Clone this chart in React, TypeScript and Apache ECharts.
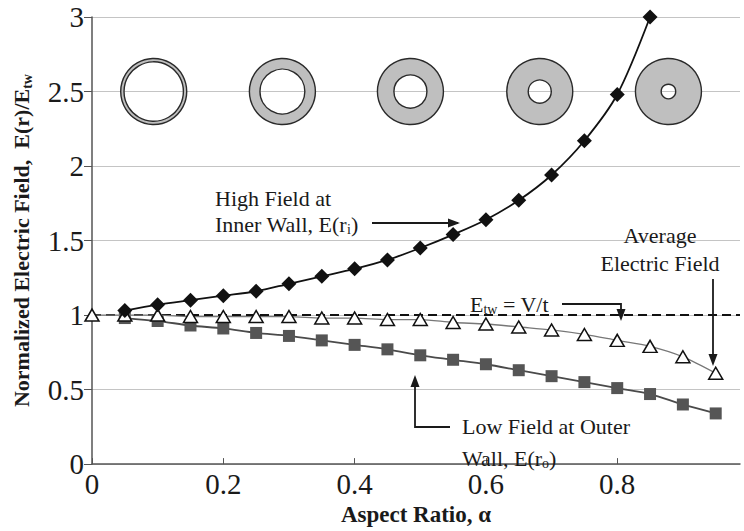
import React, { useEffect, useRef } from "react";
import * as echarts from "echarts";

// ---- data ----
const alphaHigh = [0.05, 0.1, 0.15, 0.2, 0.25, 0.3, 0.35, 0.4, 0.45, 0.5, 0.55, 0.6, 0.65, 0.7, 0.75, 0.8, 0.85];
const highField = [1.03, 1.07, 1.1, 1.13, 1.16, 1.21, 1.26, 1.31, 1.37, 1.45, 1.54, 1.64, 1.77, 1.94, 2.17, 2.48, 3.0];

const alphaLow = [0.05, 0.1, 0.15, 0.2, 0.25, 0.3, 0.35, 0.4, 0.45, 0.5, 0.55, 0.6, 0.65, 0.7, 0.75, 0.8, 0.85, 0.9, 0.95];
const lowField = [0.98, 0.96, 0.93, 0.91, 0.88, 0.86, 0.83, 0.8, 0.77, 0.73, 0.7, 0.67, 0.63, 0.59, 0.55, 0.51, 0.47, 0.4, 0.34];

const alphaAvg = [0, 0.05, 0.1, 0.15, 0.2, 0.25, 0.3, 0.35, 0.4, 0.45, 0.5, 0.55, 0.6, 0.65, 0.7, 0.75, 0.8, 0.85, 0.9, 0.95];
const avgField = [1.0, 1.0, 1.0, 0.99, 0.99, 0.99, 0.99, 0.98, 0.98, 0.97, 0.97, 0.95, 0.94, 0.92, 0.9, 0.87, 0.83, 0.79, 0.72, 0.61];

const etwLevel = 1;

const ringAlpha = [0.094, 0.29, 0.485, 0.682, 0.878];
const ringLevel = 2.5;
const ringInner = [0.9, 0.68, 0.5, 0.35, 0.22];

const xTicks = [0, 0.2, 0.4, 0.6, 0.8];
const X_MAX = 0.987;

const SERIF = "'Liberation Serif', 'Times New Roman', serif";
const TXT = "#1a1a1a";

function zip(xs: number[], ys: number[]) {
  return xs.map((x, i) => [x, ys[i]]);
}

export default function App() {
  const ref = useRef<HTMLDivElement>(null);
  useEffect(() => {
    document.body.style.margin = "0";
    if (!ref.current) return;
    const chart = echarts.init(ref.current, null, { renderer: "svg" });
    const txt = (x: number, y: number, text: string, extra: any = {}) => ({
      type: "text",
      x,
      y,
      style: {
        text,
        fontSize: 22,
        fontFamily: SERIF,
        fill: TXT,
        verticalAlign: "middle",
        rich: { sub: { fontSize: 14, fontFamily: SERIF, fill: TXT, padding: [10, 0, 0, 0] } },
        ...extra,
      },
      z: 100,
    });
    const lineEl = (pts: number[][]) => ({
      type: "polyline",
      shape: { points: pts },
      style: { stroke: TXT, lineWidth: 1.8, fill: null },
      z: 100,
    });
    const head = (x: number, y: number, dir: "right" | "down" | "up") => {
      let pts: number[][];
      if (dir === "right") pts = [[x, y], [x - 12, y - 4.5], [x - 12, y + 4.5]];
      else if (dir === "down") pts = [[x, y], [x - 4.5, y - 12], [x + 4.5, y - 12]];
      else pts = [[x, y], [x - 4.5, y + 12], [x + 4.5, y + 12]];
      return { type: "polygon", shape: { points: pts }, style: { fill: TXT }, z: 100 };
    };

    chart.setOption({
      animation: false,
      grid: { left: 91, right: 4, top: 17, bottom: 54, containLabel: false },
      xAxis: {
        type: "value",
        min: 0,
        max: X_MAX,
        interval: 0.2,
        name: "Aspect Ratio, α",
        nameLocation: "middle",
        nameGap: 37,
        nameTextStyle: { fontFamily: SERIF, fontWeight: "bold", fontSize: 23, color: TXT },
        axisLine: { show: true, lineStyle: { color: "#555", width: 1.5 } },
        axisTick: { show: true, inside: true, length: 6, lineStyle: { color: "#555" } },
        splitLine: { show: false },
        axisLabel: {
          fontFamily: SERIF,
          fontSize: 29,
          color: TXT,
          margin: 5,
          showMaxLabel: false,
          formatter: (v: number) => {
            const hit = xTicks.find((t) => Math.abs(t - v) < 1e-6);
            return hit === undefined ? "" : String(hit);
          },
        },
      },
      yAxis: {
        type: "value",
        min: 0,
        max: 3,
        interval: 0.5,
        name: "Normalized Electric Field,  E(r)/E{sub|tw}",
        nameLocation: "middle",
        nameRotate: 90,
        nameGap: 58,
        nameTextStyle: {
          fontFamily: SERIF,
          fontWeight: "bold",
          fontSize: 22,
          color: TXT,
          lineHeight: 26,
          rich: { sub: { fontFamily: SERIF, fontWeight: "bold", fontSize: 14, color: TXT, verticalAlign: "bottom", lineHeight: 15 } },
        },
        axisLine: { show: true, lineStyle: { color: "#555", width: 1.5 } },
        axisTick: { show: true, inside: false, length: 8, lineStyle: { color: "#555" } },
        splitLine: { show: true, lineStyle: { color: "#c4c4c4", width: 1.2 } },
        axisLabel: { fontFamily: SERIF, fontSize: 29, color: TXT, margin: 8 },
      },
      series: [
        {
          type: "custom",
          name: "rings",
          coordinateSystem: "cartesian2d",
          data: ringAlpha.map((a, i) => [a, ringLevel, ringInner[i]]),
          renderItem: (params: any, api: any) => {
            const p = api.coord([api.value(0), api.value(1)]);
            const r = 33;
            return {
              type: "ring",
              shape: { cx: p[0], cy: p[1], r, r0: r * api.value(2) },
              style: { fill: "#bfbfbf", stroke: "#2a2a2a", lineWidth: 1.4 },
            };
          },
          z: 2,
          silent: true,
        },
        {
          type: "line",
          name: "Etw",
          data: [],
          markLine: {
            silent: true,
            symbol: ["none", "none"],
            label: { show: false },
            lineStyle: { color: "#111", type: [9, 5], width: 2 },
            data: [{ yAxis: etwLevel }],
          },
          z: 3,
        },
        {
          type: "line",
          name: "Average",
          data: zip(alphaAvg, avgField),
          smooth: 0.3,
          symbol: "triangle",
          symbolSize: [14, 12],
          lineStyle: { color: "#777", width: 1.3 },
          itemStyle: { color: "#fff", borderColor: "#111", borderWidth: 1.5 },
          z: 5,
        },
        {
          type: "line",
          name: "Low",
          data: zip(alphaLow, lowField),
          smooth: 0.3,
          symbol: "rect",
          symbolSize: 12,
          lineStyle: { color: "#4a4a4a", width: 1.8 },
          itemStyle: { color: "#555" },
          z: 4,
        },
        {
          type: "line",
          name: "High",
          data: zip(alphaHigh, highField),
          smooth: 0.3,
          symbol: "diamond",
          symbolSize: [15, 15],
          lineStyle: { color: "#111", width: 1.8 },
          itemStyle: { color: "#111" },
          z: 6,
        },
      ],
      graphic: [
        txt(215, 198, "High Field at"),
        txt(215, 224, "Inner Wall, E(r{sub|i})"),
        lineEl([[372, 223], [458, 223]]),
        head(460, 223, "right"),

        txt(660, 235, "Average", { align: "center" }),
        txt(660, 263, "Electric Field", { align: "center" }),
        lineEl([[713, 279], [713, 362]]),
        head(713, 366, "down"),

        txt(470, 304, "E{sub|tw} = V/t"),
        lineEl([[562, 304], [621, 304], [621, 314]]),
        head(621, 321, "down"),

        txt(462, 426, "Low Field at Outer"),
        txt(462, 458, "Wall, E(r{sub|o})"),
        lineEl([[450, 427], [415, 427], [415, 381]]),
        head(415, 375, "up"),
      ],
    });
    return () => chart.dispose();
  }, []);
  return <div ref={ref} style={{ width: 744, height: 531 }} />;
}
